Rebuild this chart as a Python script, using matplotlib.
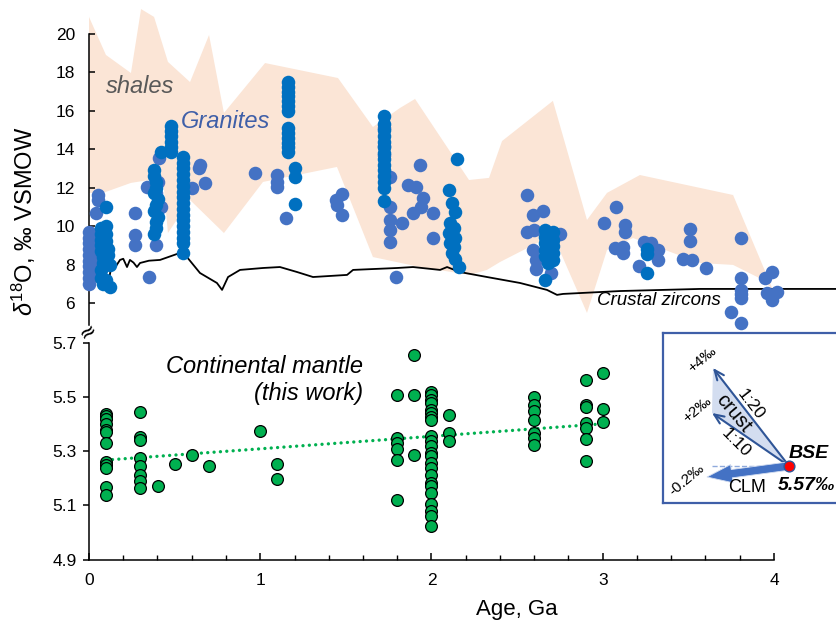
import numpy as np
import matplotlib
matplotlib.use("Agg")
import matplotlib.pyplot as plt
from matplotlib.patches import Polygon

plt.rcParams['font.family'] = ['Liberation Sans', 'DejaVu Sans']
plt.rcParams['mathtext.fontset'] = 'custom'
plt.rcParams['mathtext.rm'] = 'Liberation Sans'
plt.rcParams['mathtext.it'] = 'Liberation Sans:italic'

# --- shale envelope (upper edge left->right, lower edge right->left)
shale_up_age = [0.0, 0.099, 0.245, 0.304, 0.380, 0.461, 0.590, 0.701, 0.788, 1.028, 1.454,
                1.658, 1.816, 1.904, 2.219, 2.336, 2.412, 2.709, 2.908, 3.025, 3.217, 3.761, 3.994]
shale_up_d18o = [20.89, 18.91, 17.97, 21.30, 20.89, 18.55, 17.50, 19.95, 15.89, 18.49, 17.71,
                 15.16, 16.15, 16.62, 12.40, 12.51, 14.43, 16.52, 10.32, 11.73, 12.66, 11.62, 6.68]
shale_lo_age = [3.936, 3.761, 3.568, 3.177, 3.025, 2.908, 2.709, 2.400, 2.324, 2.225, 1.933,
                1.658, 1.448, 1.016, 0.788, 0.590, 0.461, 0.432, 0.245, 0.082, 0.0]
shale_lo_d18o = [7.20, 7.98, 8.08, 9.38, 8.76, 5.48, 9.54, 8.13, 7.72, 7.46, 7.87,
                 8.39, 13.08, 12.30, 9.64, 11.36, 9.64, 12.51, 12.25, 11.73, 11.73]

# --- crustal zircons curve
zircon_age = [0.006, 0.047, 0.082, 0.111, 0.134, 0.160, 0.181, 0.200, 0.222, 0.239, 0.260, 0.280,
              0.298, 0.350, 0.415, 0.514, 0.572, 0.648, 0.747, 0.777, 0.812, 0.882, 1.016, 1.115,
              1.215, 1.308, 1.507, 1.542, 1.799, 1.892, 2.050, 2.091, 2.166, 2.324, 2.517, 2.674,
              2.733, 2.768, 3.101, 3.568, 4.368]
zircon_d18o = [6.83, 7.25, 7.30, 6.94, 8.08, 7.95, 8.24, 8.30, 7.87, 8.24, 8.10, 7.87,
               8.08, 8.20, 8.24, 8.55, 8.39, 7.56, 7.04, 6.68, 7.35, 7.72, 7.82, 7.87,
               7.61, 7.35, 7.46, 7.72, 7.82, 7.87, 7.72, 7.87, 7.61, 7.35, 7.04, 6.68,
               6.42, 6.47, 6.62, 6.73, 6.73]

# --- granites (two shades)
gran_a_age = [0.00, 0.00, 0.00, 0.00, 0.00, 0.00, 0.00, 0.00, 0.00, 0.00,
              0.02, 0.02, 0.02, 0.05, 0.05, 0.04, 0.06, 0.06,
              0.27, 0.27, 0.27, 0.34, 0.35, 0.39, 0.40, 0.39, 0.42, 0.41,
              0.60, 0.65, 0.64, 0.68, 0.97, 1.10, 1.10, 1.10, 1.15,
              1.44, 1.45, 1.48, 1.48, 1.72, 1.72, 1.72, 1.76, 1.76, 1.76, 1.76, 1.76,
              1.79, 1.83, 1.86, 1.91, 1.93, 1.95, 1.94, 1.89, 2.01, 2.01,
              2.56, 2.59, 2.65, 2.56, 2.60, 2.75, 2.59, 2.61, 2.61, 2.70, 2.69,
              3.08, 3.01, 3.13, 3.13, 3.07, 3.12, 3.12, 3.24, 3.28, 3.32, 3.32, 3.21,
              3.51, 3.51, 3.47, 3.52, 3.60, 3.81, 3.81, 3.81, 3.81, 3.81, 3.75, 3.81,
              3.95, 3.99, 3.96, 4.02, 3.99]
gran_a_d18o = [9.70, 9.40, 9.10, 8.80, 8.50, 8.20, 7.90, 7.60, 7.30, 7.00,
               9.20, 8.40, 7.70, 11.60, 11.35, 10.70, 7.90, 7.40,
               10.70, 9.55, 9.00, 12.05, 7.35, 9.00, 12.30, 11.70, 11.00, 13.55,
               12.00, 13.20, 13.00, 12.25, 12.77, 12.66, 12.30, 12.04, 10.42,
               11.36, 11.10, 11.67, 10.58, 15.10, 14.17, 13.70, 12.56, 11.00, 10.32, 9.80, 9.18,
               7.35, 10.17, 12.14, 12.04, 13.18, 11.47, 11.00, 10.68, 10.68, 9.38,
               11.62, 10.58, 10.79, 9.69, 9.80, 9.59, 8.76, 8.24, 7.77, 7.56, 9.43,
               11.00, 10.17, 10.06, 9.70, 8.86, 8.92, 8.60, 9.18, 9.12, 8.76, 8.24, 7.93,
               9.85, 9.23, 8.29, 8.24, 7.82, 9.38, 7.30, 6.68, 6.45, 6.25, 5.53, 4.96,
               7.30, 7.61, 6.52, 6.57, 6.16]

gran_b_age = [0.07, 0.07, 0.07, 0.07, 0.07, 0.08, 0.08, 0.07, 0.07, 0.08,
              0.10, 0.10, 0.10, 0.11, 0.11, 0.12, 0.10, 0.12, 0.10,
              0.38, 0.38, 0.39, 0.39, 0.38, 0.40, 0.39, 0.38, 0.40, 0.39, 0.39, 0.38, 0.42,
              0.48, 0.48, 0.48, 0.48, 0.48, 0.48,
              0.55, 0.55, 0.55, 0.55, 0.55, 0.55, 0.55, 0.55, 0.55, 0.55, 0.55, 0.55,
              0.55, 0.55, 0.55, 0.55, 0.55,
              1.16, 1.16, 1.16, 1.16, 1.16, 1.16, 1.16, 1.16, 1.16, 1.16, 1.16, 1.16, 1.16,
              1.20, 1.20, 1.20,
              1.72, 1.72, 1.72, 1.72, 1.72, 1.72, 1.72, 1.72, 1.72, 1.72, 1.72, 1.72, 1.72, 1.72,
              2.15, 2.10, 2.12, 2.14, 2.11, 2.13, 2.10, 2.14, 2.11, 2.13, 2.12, 2.14, 2.16,
              2.66, 2.71, 2.66, 2.71, 2.66, 2.71, 2.66, 2.71, 2.66, 2.71, 2.68, 2.66,
              3.26, 3.26, 3.26]
gran_b_d18o = [9.90, 9.60, 9.30, 9.00, 8.70, 8.40, 8.10, 7.70, 7.30, 7.00,
               10.00, 9.60, 9.20, 8.80, 8.50, 8.00, 7.20, 6.85, 11.00,
               12.90, 12.60, 12.30, 12.00, 11.70, 11.40, 11.10, 10.80, 10.50, 10.20, 9.90, 9.60, 13.85,
               15.20, 14.95, 14.70, 14.40, 14.10, 13.85,
               13.60, 13.30, 13.00, 12.70, 12.40, 12.10, 11.80, 11.50, 11.20, 10.90, 10.60, 10.30,
               10.00, 9.70, 9.40, 9.10, 8.60,
               17.50, 17.25, 17.00, 16.75, 16.50, 16.25, 16.00, 15.10, 14.85, 14.60, 14.35, 14.10, 13.85,
               13.00, 12.56, 11.15,
               15.73, 15.30, 15.00, 14.70, 14.40, 14.10, 13.80, 13.50, 13.20, 12.90, 12.60, 12.30, 12.00, 11.30,
               13.50, 11.88, 11.20, 10.74, 10.16, 9.90, 9.64, 9.40, 9.12, 8.90, 8.60, 8.30, 7.87,
               9.80, 9.70, 9.45, 9.30, 9.10, 8.95, 8.76, 8.60, 8.42, 8.25, 8.07, 7.18,
               8.81, 8.55, 7.56]

# --- continental mantle (this work)
mantle_age = [0.1] * 12 + [0.3] * 8 + [0.405, 0.5, 0.6, 0.7, 1.0, 1.1, 1.1] + [1.8] * 6 + [1.9] * 3 \
    + [2.0] * 23 + [2.1] * 3 + [2.6] * 7 + [2.9] * 7 + [3.0] * 3
mantle_d18o = [5.44, 5.43, 5.42, 5.40, 5.38, 5.37, 5.33, 5.26, 5.25, 5.24, 5.17, 5.14,
               5.444, 5.354, 5.342, 5.274, 5.246, 5.212, 5.19, 5.163,
               5.173, 5.252, 5.286, 5.246, 5.375, 5.252, 5.198,
               5.509, 5.348, 5.33, 5.31, 5.268, 5.12,
               5.657, 5.509, 5.286,
               5.521, 5.509, 5.490, 5.478, 5.454, 5.441, 5.429, 5.417, 5.356, 5.337, 5.319, 5.294,
               5.282, 5.258, 5.239, 5.214, 5.184, 5.171, 5.147, 5.104, 5.079, 5.061, 5.024,
               5.433, 5.368, 5.337,
               5.503, 5.473, 5.448, 5.417, 5.368, 5.35, 5.325,
               5.565, 5.473, 5.464, 5.405, 5.387, 5.347, 5.266,
               5.589, 5.457, 5.407]
trend_age = [0.1, 3.0]
trend_d18o = [5.268, 5.402]

W, H = 837, 620


def px_rect(x0, y0, x1, y1):
    return [x0 / W, 1 - y1 / H, (x1 - x0) / W, (y1 - y0) / H]


fig = plt.figure(figsize=(W / 100, H / 100), dpi=100)

# ---------------- upper panel
ax1 = fig.add_axes(px_rect(89, 3.3, 837, 326))
ax1.set_xlim(0, (837 - 89) / 171.25)
ax1.set_ylim(4.8, 21.6)
ax1.fill(shale_up_age + shale_lo_age, shale_up_d18o + shale_lo_d18o,
         color='#FBE5D6', lw=0, zorder=1)
ax1.plot(zircon_age, zircon_d18o, color='black', lw=1.3, zorder=3, clip_on=False)
ax1.scatter(gran_a_age, gran_a_d18o, s=95, color='#4472C4', lw=0, zorder=4, clip_on=False)
ax1.scatter(gran_b_age, gran_b_d18o, s=95, color='#0070C0', lw=0, zorder=5, clip_on=False)
for s in ['top', 'right', 'bottom']:
    ax1.spines[s].set_visible(False)
ax1.spines['left'].set_bounds(4.85, 20)
ax1.spines['left'].set_linewidth(1.1)
ax1.set_yticks(range(6, 21, 2))
ax1.set_xticks([])
ax1.tick_params(axis='y', direction='in', length=4.5, width=1.1, pad=10, labelsize=12.5)
ax1.text(0.30, 17.25, 'shales', style='italic', fontsize=17, color='#595959',
         ha='center', va='center')
ax1.text(0.80, 15.45, 'Granites', style='italic', fontsize=17, color='#3F5FA8',
         ha='center', va='center')
ax1.text(3.33, 6.15, 'Crustal zircons', style='italic', fontsize=13.5, color='black',
         ha='center', va='center', zorder=6)

# ---------------- lower panel
ax2 = fig.add_axes(px_rect(89, 343.3, 774, 559.5))
ax2.set_xlim(0, 4)
ax2.set_ylim(4.9, 5.7)
ax2.plot(trend_age, trend_d18o, color='#00B050', lw=2.4, ls=(0, (0.01, 1.9)),
         dash_capstyle='round', zorder=2)
ax2.scatter(mantle_age, mantle_d18o, s=72, color='#00B050', edgecolors='black',
            linewidths=0.9, zorder=3, clip_on=False)
for s in ['top', 'right']:
    ax2.spines[s].set_visible(False)
for s in ['left', 'bottom']:
    ax2.spines[s].set_linewidth(1.1)
ax2.set_yticks([4.9, 5.1, 5.3, 5.5, 5.7])
ax2.set_yticklabels(['4.9', '5.1', '5.3', '5.5', '5.7'])
ax2.set_xticks([0, 1, 2, 3, 4])
ax2.set_xticks(np.arange(0, 4.01, 0.2), minor=True)
ax2.tick_params(axis='y', direction='out', length=4.5, width=1.1, pad=4.5, labelsize=12.5)
ax2.tick_params(axis='x', which='major', direction='in', length=5, width=1.1, pad=9.5,
                labelsize=12.5)
ax2.tick_params(axis='x', which='minor', direction='in', length=3.5, width=1.0)
ax2.text(1.60, 5.565, 'Continental mantle\n(this work)', style='italic', fontsize=17,
         ha='right', va='center', multialignment='right')

fig.text(517 / W, 1 - 609 / H, 'Age, Ga', fontsize=16, ha='center', va='center')
fig.text(24 / W, 1 - 221 / H, r'$\delta^{18}$O, ‰ VSMOW', fontsize=17, rotation=90,
         ha='center', va='center')
fig.text(88 / W, 1 - 331 / H, '≈', fontsize=15, rotation=35, ha='center', va='center',
         family='DejaVu Sans')

# ---------------- inset schematic
ax3 = fig.add_axes(px_rect(663, 333, 843, 503), zorder=10)
ax3.set_xlim(0, 180)
ax3.set_ylim(170, 0)
ax3.set_xticks([])
ax3.set_yticks([])
for s in ax3.spines.values():
    s.set_color('#3F5FA8')
    s.set_linewidth(1.6)

bse = (126, 133)
tip_4 = (50, 35)
tip_2 = (49, 80)
tip_clm = (44, 144)
ax3.add_patch(Polygon([tip_4, tip_2, bse], closed=True, fc='#D3DDF0', ec='none', zorder=1))
ax3.plot([49, bse[0]], [bse[1], bse[1]], ls='--', color='#8FAADC', lw=1, zorder=2)
for tip in [tip_4, tip_2]:
    ax3.annotate('', xy=tip, xytext=bse,
                 arrowprops=dict(arrowstyle='->,head_length=0.7,head_width=0.3',
                                 color='#2F5597', lw=1.5, shrinkA=0, shrinkB=0), zorder=3)
ax3.annotate('', xy=tip_clm, xytext=bse,
             arrowprops=dict(arrowstyle='simple,head_length=1.5,head_width=1.1,tail_width=0.5',
                             fc='#4472C4', ec='#D3DDF0', lw=0.6, mutation_scale=12,
                             shrinkA=0, shrinkB=0), zorder=3)
ax3.scatter([bse[0]], [bse[1]], s=60, color='red', edgecolors='#2F5597', linewidths=1, zorder=5)

ax3.text(39, 26, '+4‰', rotation=40, fontsize=11, ha='center', va='center')
ax3.text(34, 76, '+2‰', rotation=40, fontsize=11, ha='center', va='center')
ax3.text(24, 147, '-0.2‰', rotation=40, fontsize=11, ha='center', va='center')
ax3.text(70, 80, 'crust', rotation=-50, fontsize=14.5, ha='center', va='center', zorder=4)
ax3.text(88, 72, '1:20', rotation=-52, fontsize=12.5, ha='center', va='center', zorder=4)
ax3.text(73, 110, '1:10', rotation=-45, fontsize=12.5, ha='center', va='center', zorder=4)
ax3.text(146, 120, 'BSE', style='italic', weight='bold', fontsize=14, ha='center', va='center')
ax3.text(115, 152, '5.57‰', style='italic', weight='bold', fontsize=14, ha='left', va='center')
ax3.text(84, 154, 'CLM', fontsize=13, ha='center', va='center')

fig.savefig('out.png', dpi=100)
